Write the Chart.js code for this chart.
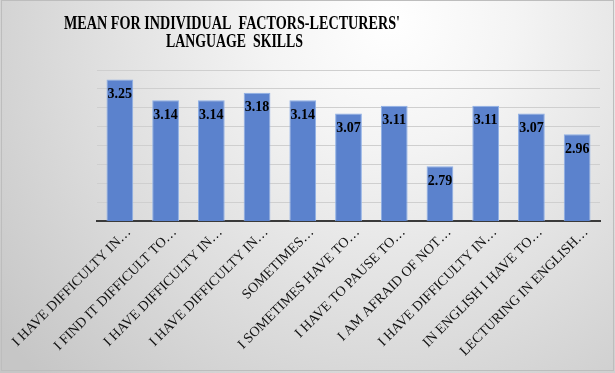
<!DOCTYPE html>
<html>
<head>
<meta charset="utf-8">
<script src="https://cdn.jsdelivr.net/npm/chart.js@4/dist/chart.umd.min.js"></script>
<style>
  html, body { margin: 0; padding: 0; background: #ffffff; }
  #wrap { width: 615px; height: 373px; }
</style>
</head>
<body>
<div id="wrap"><canvas id="c" width="615" height="373"></canvas></div>
<script>
const titleLines = ["MEAN FOR INDIVIDUAL  FACTORS-LECTURERS'", "LANGUAGE  SKILLS"];
const categories = [
  "I HAVE DIFFICULTY IN…",
  "I FIND IT DIFFICULT TO…",
  "I HAVE DIFFICULTY IN…",
  "I HAVE DIFFICULTY IN…",
  "SOMETIMES…",
  "I SOMETIMES HAVE TO…",
  "I HAVE TO PAUSE TO…",
  "I AM AFRAID OF NOT…",
  "I HAVE DIFFICULTY IN…",
  "IN ENGLISH I HAVE TO…",
  "LECTURING IN ENGLISH…"
];
const meanValues = [3.25, 3.14, 3.14, 3.18, 3.14, 3.07, 3.11, 2.79, 3.11, 3.07, 2.96];
const axisMin = 2.5;
const axisMax = 3.3;
const axisStep = 0.1;

const backgroundPlugin = {
  id: 'bg',
  beforeDraw(chart) {
    const ctx = chart.ctx;
    const w = chart.width, h = chart.height;
    ctx.save();
    const g = ctx.createRadialGradient(390, 20, 0, 390, 20, 500);
    g.addColorStop(0, '#ffffff');
    g.addColorStop(0.25, '#f4f4f4');
    g.addColorStop(1, '#c6c6c6');
    ctx.fillStyle = g;
    ctx.fillRect(0, 0, w, h);
    ctx.strokeStyle = '#bdbdbd';
    ctx.lineWidth = 1;
    ctx.strokeRect(1.5, 0.5, w - 3, h - 3);
    ctx.restore();
  }
};

const titlePlugin = {
  id: 'squeezedTitle',
  afterDraw(chart) {
    const ctx = chart.ctx;
    const specs = [
      { text: titleLines[0], left: 64, width: 336, baseline: 28.5 },
      { text: titleLines[1], left: 166, width: 137, baseline: 47 }
    ];
    ctx.save();
    ctx.font = 'bold 18px "Liberation Serif", "Times New Roman", serif';
    ctx.fillStyle = '#000000';
    ctx.textBaseline = 'alphabetic';
    ctx.textAlign = 'left';
    specs.forEach(s => {
      const m = ctx.measureText(s.text).width;
      const k = s.width / m;
      ctx.save();
      ctx.translate(s.left, s.baseline);
      ctx.scale(k, 1);
      ctx.fillText(s.text, 0, 0);
      ctx.restore();
    });
    ctx.restore();
  }
};

const valueLabelPlugin = {
  id: 'valueLabels',
  afterDatasetsDraw(chart) {
    const ctx = chart.ctx;
    const meta = chart.getDatasetMeta(0);
    ctx.save();
    ctx.font = 'bold 14px "Liberation Serif", "Times New Roman", serif';
    ctx.fillStyle = '#000000';
    ctx.textAlign = 'center';
    ctx.textBaseline = 'middle';
    meta.data.forEach((bar, i) => {
      ctx.fillText(meanValues[i].toFixed(2), bar.x, bar.y + 15);
    });
    ctx.restore();
  }
};

new Chart(document.getElementById('c'), {
  type: 'bar',
  data: {
    labels: categories,
    datasets: [{
      data: meanValues,
      backgroundColor: '#5b82cd',
      borderColor: '#8fb0e6',
      borderWidth: 1,
      categoryPercentage: 1.0,
      barPercentage: 0.585
    }]
  },
  options: {
    responsive: false,
    animation: false,
    devicePixelRatio: 1,
    layout: { padding: { left: 97, right: 15, top: 70, bottom: 0 } },
    plugins: {
      legend: { display: false },
      title: { display: false },
      tooltip: { enabled: false }
    },
    scales: {
      x: {
        grid: { display: false, drawTicks: false },
        border: { display: true, color: '#3a3a3a', width: 2 },
        ticks: {
          autoSkip: false,
          minRotation: 45,
          maxRotation: 45,
          padding: 3,
          labelOffset: 9,
          color: '#111111',
          font: { family: '"Liberation Serif", "Times New Roman", serif', size: 14 }
        },
        afterFit(s) { s.height = 152; s.paddingLeft = 0; s.paddingRight = 0; }
      },
      y: {
        min: axisMin,
        max: axisMax,
        ticks: { display: false, stepSize: axisStep },
        grid: { color: '#cfcfcf', lineWidth: 1, drawTicks: false },
        border: { display: false },
        afterFit(s) { s.width = 0; s.paddingTop = 0; s.paddingBottom = 0; }
      }
    }
  },
  plugins: [backgroundPlugin, titlePlugin, valueLabelPlugin]
});
</script>
</body>
</html>
